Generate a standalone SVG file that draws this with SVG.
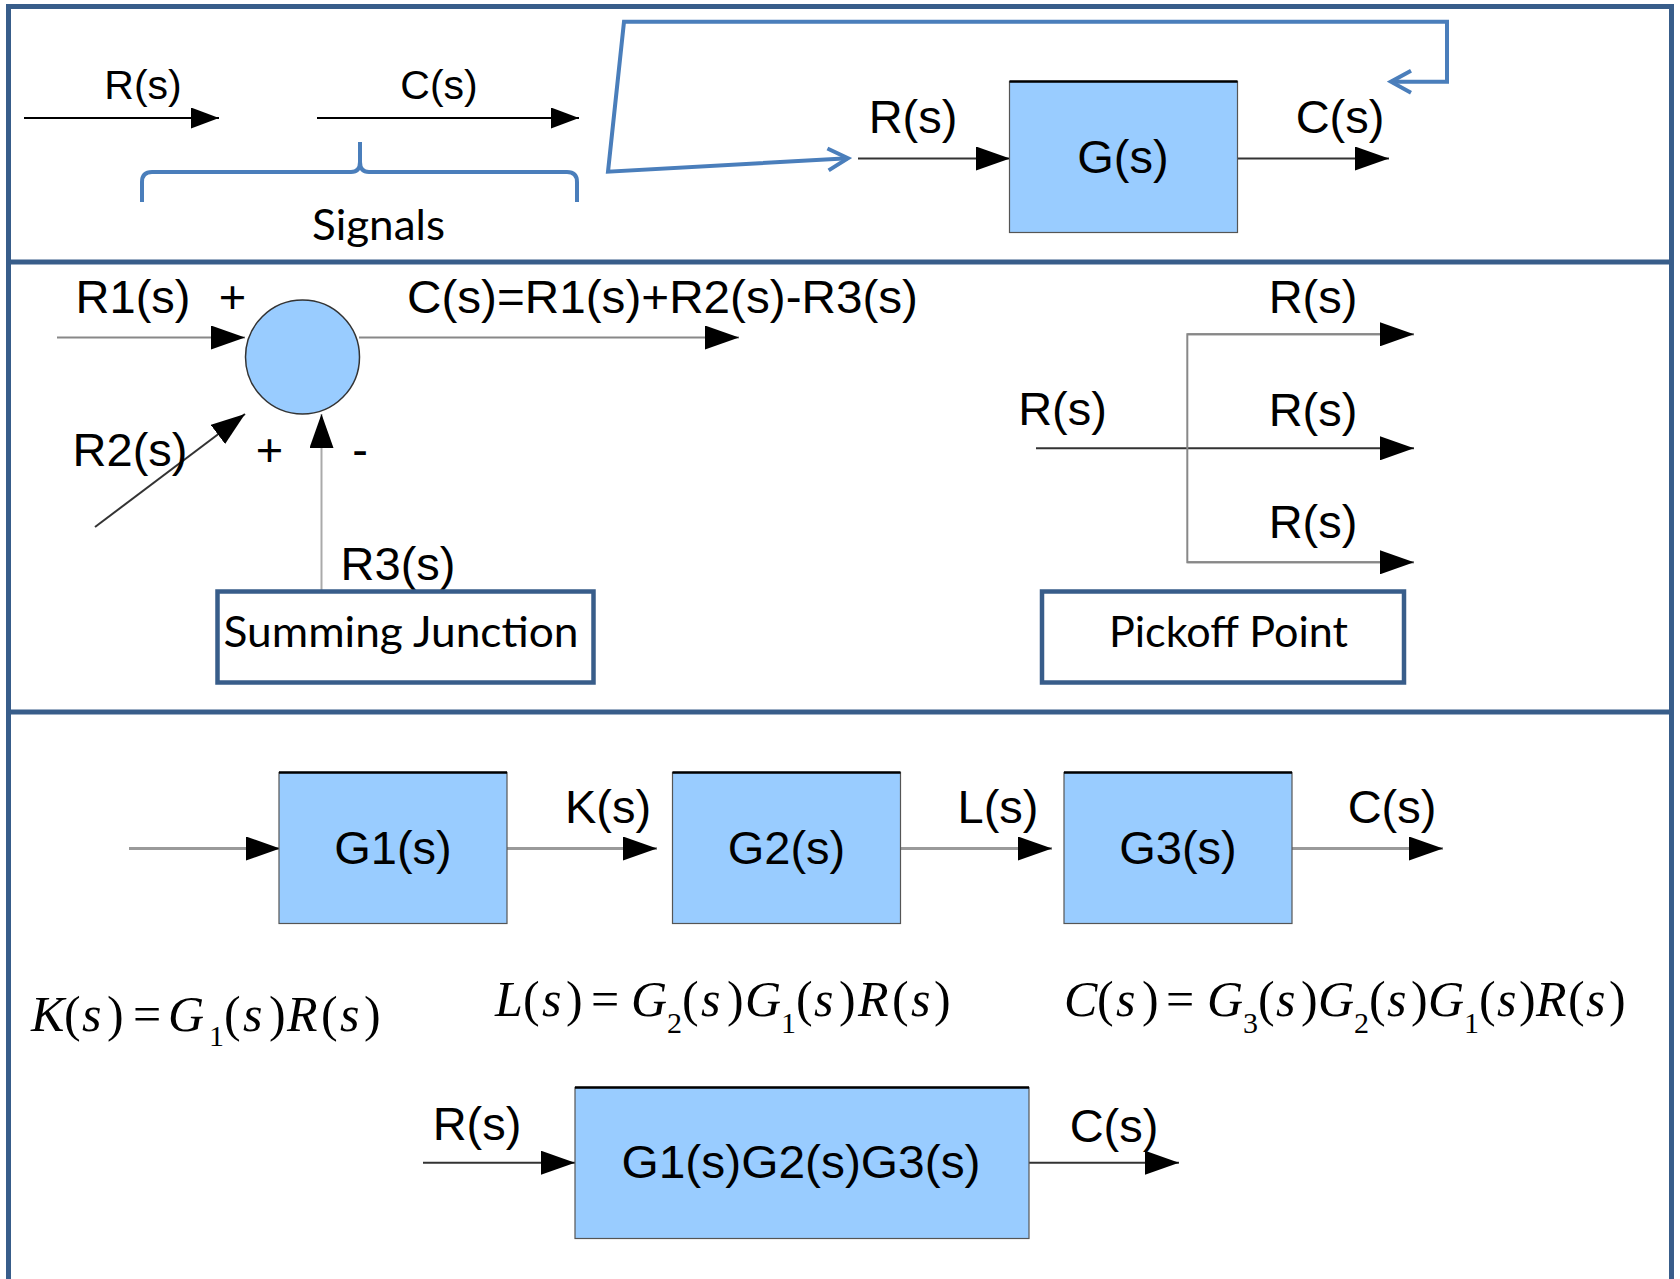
<svg xmlns="http://www.w3.org/2000/svg" width="1680" height="1279" viewBox="0 0 1680 1279">
<style>
.lbl{font-family:"Liberation Sans",Arial,sans-serif;font-size:47px;fill:#000;text-anchor:middle}
.lbls{font-family:"Liberation Sans",Arial,sans-serif;font-size:41px;fill:#000;text-anchor:middle}
.cal{font-family:Lato,"Liberation Sans",sans-serif;font-size:42px;fill:#000}
.eq{font-family:"Liberation Serif","Times New Roman",serif;font-size:50px;fill:#000}
.it{font-style:italic}
.sub{font-size:30px}
.blk{fill:#99CCFF;stroke:#555;stroke-width:1.2}
.blktop{stroke:#000;stroke-width:2.5}
.frame{fill:none;stroke:#385D8A;stroke-width:5}
.cap{fill:#fff;stroke:#385D8A;stroke-width:4.5}
.sig{fill:none;stroke:#000;stroke-width:1.8}
.sigd{fill:none;stroke:#333;stroke-width:2}
.sigg{fill:none;stroke:#888;stroke-width:2}
.sigl{fill:none;stroke:#aaa;stroke-width:2}
.sig3{fill:none;stroke:#9a9a9a;stroke-width:3}
.blue{fill:none;stroke:#4A7EBB;stroke-width:4;stroke-linejoin:miter}
</style>
<defs>
<marker id="ah" viewBox="-34 -12 34 24" refX="0" refY="0" markerWidth="34" markerHeight="24" markerUnits="userSpaceOnUse" orient="auto"><path d="M-34,-12 L0,0 L-34,12 Z" fill="#000"/></marker>
<marker id="ahs" viewBox="-28 -10.5 28 21" refX="0" refY="0" markerWidth="28" markerHeight="21" markerUnits="userSpaceOnUse" orient="auto"><path d="M-28,-10.5 L0,0 L-28,10.5 Z" fill="#000"/></marker>
<marker id="chev" viewBox="-24 -14 28 28" refX="0" refY="0" markerWidth="28" markerHeight="28" markerUnits="userSpaceOnUse" orient="auto-start-reverse"><path d="M-20,-11 L0,0 L-20,11" fill="none" stroke="#4A7EBB" stroke-width="4"/></marker>
</defs>
<rect width="1680" height="1279" fill="#fff"/>
<g id="frame">
<rect class="frame" x="8.5" y="6.5" width="1663" height="1320"/>
<line class="frame" x1="8.5" y1="262" x2="1671.5" y2="262"/>
<line class="frame" x1="8.5" y1="712" x2="1671.5" y2="712"/>
</g>
<g id="connectors">
<line class="sig" x1="24" y1="118" x2="219" y2="118" marker-end="url(#ahs)"/>
<line class="sig" x1="317" y1="118" x2="579" y2="118" marker-end="url(#ahs)"/>
<path class="blue" d="M142,202 V182 Q142,172 152,172 H351 Q360,172 360,162 V142 V162 Q360,172 369,172 H567 Q577,172 577,182 V202"/>
<path class="blue" d="M1391,81.7 H1447 V21.7 H624 L608,171.7 L848,158.3" marker-start="url(#chev)" marker-end="url(#chev)"/>
<line class="sigd" x1="858" y1="158.5" x2="1010" y2="158.5" marker-end="url(#ah)"/>
<line class="sigd" x1="1237" y1="158.5" x2="1389" y2="158.5" marker-end="url(#ah)"/>
<line class="sigg" x1="57" y1="337.5" x2="245" y2="337.5" marker-end="url(#ah)"/>
<line class="sigg" x1="359" y1="337.5" x2="739" y2="337.5" marker-end="url(#ah)"/>
<line class="sigd" x1="95" y1="527" x2="245" y2="414" stroke-width="1.5" marker-end="url(#ah)"/>
<line class="sigl" x1="321.5" y1="602" x2="321.5" y2="414" marker-end="url(#ah)"/>
<line class="sigd" x1="1036" y1="448.3" x2="1414" y2="448.3" marker-end="url(#ah)"/>
<polyline class="sigg" points="1414,334.3 1187.3,334.3 1187.3,562.3 1414,562.3"/>
<line class="sigg" x1="1187.3" y1="334.3" x2="1414" y2="334.3" marker-end="url(#ah)"/>
<line class="sigg" x1="1187.3" y1="562.3" x2="1414" y2="562.3" marker-end="url(#ah)"/>
<line class="sig3" x1="129" y1="848.5" x2="280" y2="848.5" marker-end="url(#ah)"/>
<line class="sig3" x1="507" y1="848.5" x2="657" y2="848.5" marker-end="url(#ah)"/>
<line class="sig3" x1="900" y1="848.5" x2="1052" y2="848.5" marker-end="url(#ah)"/>
<line class="sig3" x1="1291" y1="848.5" x2="1443" y2="848.5" marker-end="url(#ah)"/>
<line class="sigd" x1="423" y1="1162.7" x2="575" y2="1162.7" marker-end="url(#ah)"/>
<line class="sigd" x1="1029" y1="1162.7" x2="1179" y2="1162.7" marker-end="url(#ah)"/>
</g>
<g id="signals">
<text class="lbls" x="143" y="99">R(s)</text>
<text class="lbls" x="439" y="99">C(s)</text>
<text class="cal" x="312" y="240" textLength="133" lengthAdjust="spacingAndGlyphs">Signals</text>
</g>
<g id="block-g">
<rect class="blk" x="1009.5" y="81.5" width="228" height="151"/>
<line class="blktop" x1="1009.5" y1="81.5" x2="1237.5" y2="81.5"/>
<text class="lbl" x="1123" y="173">G(s)</text>
<text class="lbl" x="913" y="133">R(s)</text>
<text class="lbl" x="1340" y="133">C(s)</text>
</g>
<g id="summing-junction">
<circle cx="302.5" cy="357" r="57" fill="#99CCFF" stroke="#333" stroke-width="1.5"/>
<text class="lbl" x="133" y="313">R1(s)</text>
<text class="lbl" x="232.5" y="313">+</text>
<text class="lbl" x="407" y="313" style="text-anchor:start" textLength="511" lengthAdjust="spacingAndGlyphs">C(s)=R1(s)+R2(s)-R3(s)</text>
<text class="lbl" x="130" y="466">R2(s)</text>
<text class="lbl" x="269.5" y="466">+</text>
<text class="lbl" x="360" y="466">-</text>
<text class="lbl" x="398" y="580">R3(s)</text>
</g>
<g id="summing-caption">
<rect class="cap" x="217.5" y="591.5" width="376" height="91"/>
<text class="cal" x="223.5" y="647" textLength="355" lengthAdjust="spacingAndGlyphs">Summing Junction</text>
</g>
<g id="pickoff">
<text class="lbl" x="1062.5" y="425">R(s)</text>
<text class="lbl" x="1313" y="313">R(s)</text>
<text class="lbl" x="1313" y="426">R(s)</text>
<text class="lbl" x="1313" y="538">R(s)</text>
</g>
<g id="pickoff-caption">
<rect class="cap" x="1042" y="591.5" width="362" height="91"/>
<text class="cal" x="1109" y="647" textLength="239" lengthAdjust="spacingAndGlyphs">Pickoff Point</text>
</g>
<g id="block-g1">
<rect class="blk" x="279" y="772.5" width="228" height="151"/>
<line class="blktop" x1="279" y1="772.5" x2="507" y2="772.5"/>
<text class="lbl" x="393" y="864">G1(s)</text>
</g>
<g id="block-g2">
<rect class="blk" x="672.5" y="772.5" width="228" height="151"/>
<line class="blktop" x1="672.5" y1="772.5" x2="900.5" y2="772.5"/>
<text class="lbl" x="786.5" y="864">G2(s)</text>
</g>
<g id="block-g3">
<rect class="blk" x="1064" y="772.5" width="228" height="151"/>
<line class="blktop" x1="1064" y1="772.5" x2="1292" y2="772.5"/>
<text class="lbl" x="1178" y="864">G3(s)</text>
</g>
<g id="series-labels">
<text class="lbl" x="608" y="823">K(s)</text>
<text class="lbl" x="998" y="823">L(s)</text>
<text class="lbl" x="1392" y="823">C(s)</text>
</g>
<g id="equations">
<text class="eq" y="1031"><tspan x="31" class="it">K</tspan><tspan x="64">(</tspan><tspan x="82" class="it">s</tspan><tspan x="107">)</tspan><tspan x="133">=</tspan><tspan x="168" class="it">G</tspan><tspan x="209" class="sub" dy="15">1</tspan><tspan x="224" dy="-15">(</tspan><tspan x="243" class="it">s</tspan><tspan x="269">)</tspan><tspan x="287" class="it">R</tspan><tspan x="321">(</tspan><tspan x="340" class="it">s</tspan><tspan x="364">)</tspan></text>
<text class="eq" y="1016"><tspan x="495" class="it">L</tspan><tspan x="523">(</tspan><tspan x="542" class="it">s</tspan><tspan x="566">)</tspan><tspan x="591">=</tspan><tspan x="631" class="it">G</tspan><tspan x="667" class="sub" dy="17">2</tspan><tspan x="682" dy="-17">(</tspan><tspan x="701" class="it">s</tspan><tspan x="727">)</tspan><tspan x="745" class="it">G</tspan><tspan x="781" class="sub" dy="17">1</tspan><tspan x="796" dy="-17">(</tspan><tspan x="814" class="it">s</tspan><tspan x="839">)</tspan><tspan x="858" class="it">R</tspan><tspan x="892">(</tspan><tspan x="911" class="it">s</tspan><tspan x="934">)</tspan></text>
<text class="eq" y="1016"><tspan x="1064" class="it">C</tspan><tspan x="1097">(</tspan><tspan x="1116" class="it">s</tspan><tspan x="1142">)</tspan><tspan x="1166">=</tspan><tspan x="1207" class="it">G</tspan><tspan x="1243" class="sub" dy="17">3</tspan><tspan x="1258" dy="-17">(</tspan><tspan x="1276" class="it">s</tspan><tspan x="1301">)</tspan><tspan x="1318" class="it">G</tspan><tspan x="1354" class="sub" dy="17">2</tspan><tspan x="1369" dy="-17">(</tspan><tspan x="1387" class="it">s</tspan><tspan x="1411">)</tspan><tspan x="1428" class="it">G</tspan><tspan x="1464" class="sub" dy="17">1</tspan><tspan x="1479" dy="-17">(</tspan><tspan x="1497" class="it">s</tspan><tspan x="1519">)</tspan><tspan x="1536" class="it">R</tspan><tspan x="1568">(</tspan><tspan x="1586" class="it">s</tspan><tspan x="1609">)</tspan></text>
</g>
<g id="block-total">
<rect class="blk" x="575" y="1087.5" width="454" height="151"/>
<line class="blktop" x1="575" y1="1087.5" x2="1029" y2="1087.5"/>
<text class="lbl" x="801" y="1178" textLength="359" lengthAdjust="spacingAndGlyphs">G1(s)G2(s)G3(s)</text>
<text class="lbl" x="477" y="1140">R(s)</text>
<text class="lbl" x="1114" y="1142">C(s)</text>
</g>
</svg>
